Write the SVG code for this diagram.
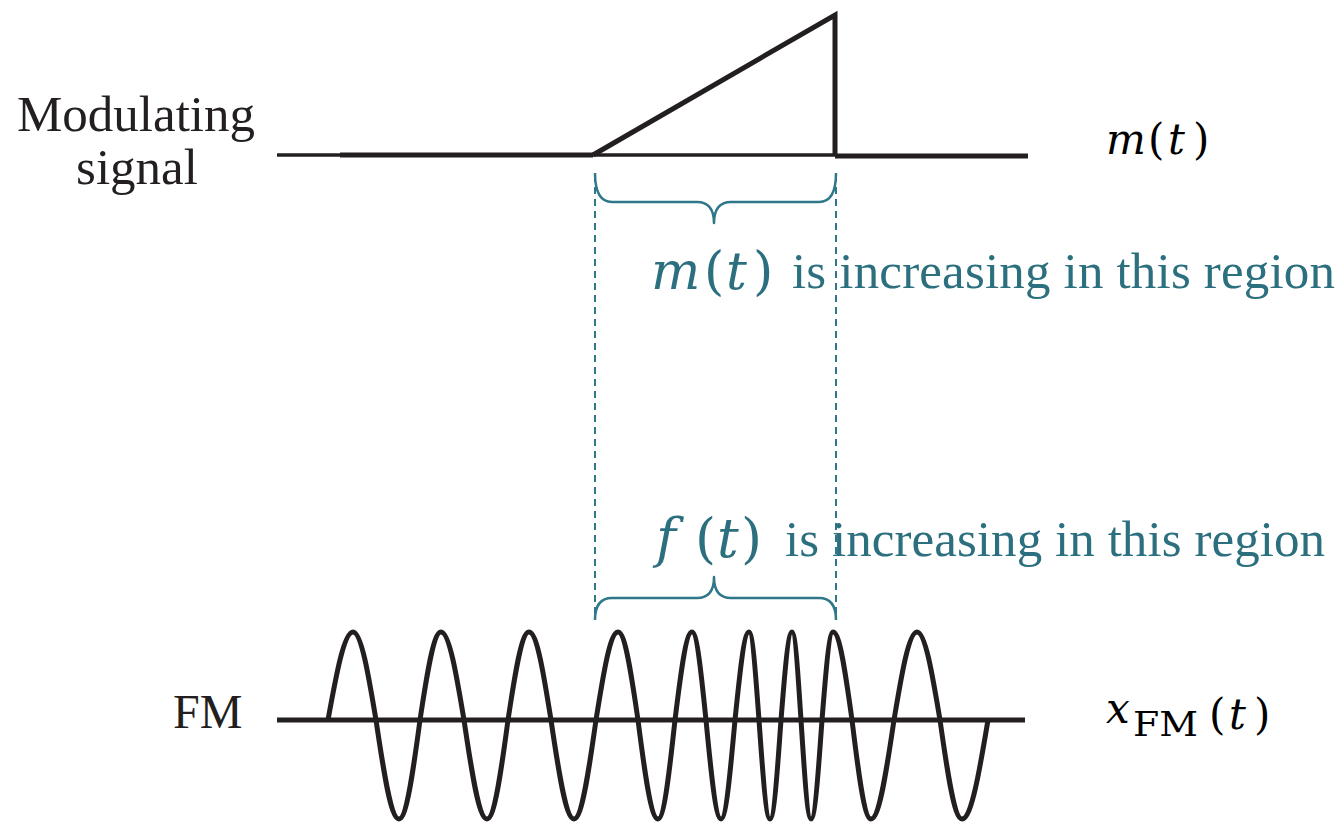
<svg xmlns="http://www.w3.org/2000/svg" width="1343" height="826" viewBox="0 0 1343 826">
<style>
.sig{fill:none;stroke:#231f20;stroke-width:5;stroke-linejoin:miter;stroke-linecap:butt}
.thin{stroke-width:3.5}
.lbl{font-family:"Liberation Serif","Times New Roman",serif;fill:#231f20}
.note{font-family:"Liberation Serif","Times New Roman",serif;fill:#2c6f7f;font-size:51px}
.math{font-family:"DejaVu Serif",serif}
.it{font-style:italic}
.brace{fill:none;stroke:#2f7889;stroke-width:2.5;stroke-linecap:butt;stroke-linejoin:round}
.dash{fill:none;stroke:#2f7889;stroke-width:2;stroke-dasharray:7 5}
</style>
<rect width="1343" height="826" fill="#ffffff"/>

<g id="modulating-label">
<text class="lbl" font-size="51" x="136" y="131" text-anchor="middle">Modulating</text>
<text class="lbl" font-size="51" x="137" y="184" text-anchor="middle">signal</text>
</g>

<g id="modulating-signal">
<line class="sig thin" x1="277" y1="155" x2="340" y2="155"/>
<line class="sig" x1="340" y1="155" x2="593" y2="155"/>
<line class="sig thin" x1="593" y1="155" x2="835" y2="155"/>
<line class="sig" x1="835" y1="156" x2="1028" y2="156"/>
<path class="sig" d="M 593 155 L 835 15 L 835 156"/>
</g>

<g id="m-label">
<text class="math" font-size="42" y="154" fill="#000000"><tspan class="it" x="1106">m</tspan><tspan x="1148">(</tspan><tspan class="it" x="1168">t</tspan><tspan x="1193">)</tspan></text>
</g>

<g id="connectors">
<line class="dash" x1="595" y1="175" x2="595" y2="620"/>
<line class="dash" x1="836" y1="175" x2="836" y2="620"/>
<path class="brace" d="M 595 173 Q 595 202 612 202 L 697 202 Q 714 202 714 223 Q 714 202 731 202 L 819 202 Q 836 202 836 173"/>
<path class="brace" d="M 595 620 Q 595 598 612 598 L 697 598 Q 714 598 714 577 Q 714 598 731 598 L 819 598 Q 836 598 836 620"/>
</g>

<g id="note-m">
<text class="math" font-size="52" y="289" fill="#2c6f7f"><tspan class="it" x="651">m</tspan><tspan x="704">(</tspan><tspan class="it" x="726">t</tspan><tspan x="753">)</tspan></text>
<text class="note" x="792" y="288" textLength="543">is increasing in this region</text>
</g>

<g id="note-f">
<text class="math" font-size="54" y="557" fill="#2c6f7f"><tspan class="it" x="656">f</tspan><tspan x="695">(</tspan><tspan class="it" x="717">t</tspan><tspan x="741">)</tspan></text>
<text class="note" x="785" y="556" textLength="540">is increasing in this region</text>
</g>

<g id="fm-label">
<text class="lbl" font-size="48" x="173" y="728">FM</text>
</g>

<g id="fm-signal">
<line class="sig" x1="277" y1="720" x2="1025" y2="720"/>
<path class="sig" d="M 328 720
C 336.2 675 344 632 353 632 C 361.3 632 368.5 675 376 720
C 383.5 771 390.7 819 399 819 C 406.6 819 413.2 771 420 720
C 426.8 675 433.4 632 441 632 C 449.3 632 456.5 675 464 720
C 471.5 771 478.7 819 487 819 C 494.6 819 501.2 771 508 720
C 514.8 675 521.4 632 529 632 C 537 632 543.8 675 551 720
C 558.5 771 565.7 819 574 819 C 582 819 588.8 771 596 720
C 603.2 675 610 632 618 632 C 625.2 632 631.5 675 638 720
C 644.5 771 650.8 819 658 819 C 664.2 819 669.5 771 675 720
C 680.5 675 685.8 632 692 632 C 697.1 632 701.4 675 706 720
C 710.9 771 715.6 819 721 819 C 726.1 819 730.4 771 735 720
C 739.6 675 743.9 632 749 632 C 752.6 632 755.7 675 759 720
C 762.6 771 766 819 770 819 C 774 819 777.4 771 781 720
C 784.6 675 788 632 792 632 C 795.3 632 798.1 675 801 720
C 804.3 771 807.4 819 811 819 C 815 819 818.4 771 822 720
C 825.6 675 829 632 833 632 C 839.9 632 845.8 675 852 720
C 858.2 771 864.1 819 871 819 C 879.3 819 886.5 771 894 720
C 901.5 675 908.7 632 917 632 C 925.3 632 932.5 675 940 720
C 947.2 771 954 819 962 819 C 971.4 819 979.5 771 988 720"/>
</g>

<g id="xfm-label">
<text class="math" font-size="42" fill="#000000"><tspan class="it" x="1106" y="723">x</tspan><tspan x="1133" y="736" font-size="34" textLength="65" lengthAdjust="spacingAndGlyphs">FM</tspan><tspan x="1209" y="729">(</tspan><tspan class="it" x="1229" y="729">t</tspan><tspan x="1254" y="729">)</tspan></text>
</g>
</svg>
